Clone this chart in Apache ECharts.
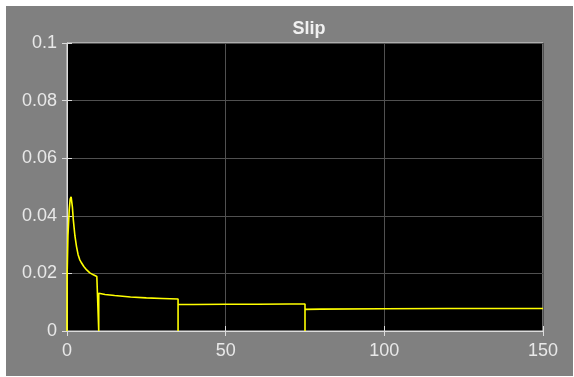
<!DOCTYPE html>
<html>
<head>
<meta charset="utf-8">
<script src="https://cdn.jsdelivr.net/npm/echarts@6/dist/echarts.min.js"></script>
<style>
html,body{margin:0;padding:0;background:#fff;}
#frame{position:absolute;left:6px;top:6px;width:567px;height:370px;background:#808080;}
#chart{position:absolute;left:-6px;top:-6px;width:574px;height:377px;}
</style>
</head>
<body>
<div id="frame"><div id="chart"></div></div>
<script>
const titleText = "Slip";
const xTicks = [0, 50, 100, 150];
const yTicks = [0, 0.02, 0.04, 0.06, 0.08, 0.1];
const timeValues = [0, 0.05, 0.3, 0.7, 1.0, 1.3, 1.7, 2.0, 2.5, 3.0, 3.5, 4.0, 4.6, 5.3, 6.2, 7.2, 8.3, 9.4, 10, 10, 10, 10.5, 12, 15, 20, 25, 30, 35, 35, 35, 40, 50, 60, 70, 75, 75, 75, 80, 100, 120, 150];
const slipValues = [0, 0.020, 0.033, 0.042, 0.0458, 0.0466, 0.043, 0.0385, 0.033, 0.0293, 0.0265, 0.0248, 0.0236, 0.0224, 0.0212, 0.0202, 0.0195, 0.0189, 0.0183, 0, 0.0131, 0.0130, 0.0127, 0.0123, 0.0118, 0.0115, 0.0113, 0.0111, 0, 0.0092, 0.0092, 0.0093, 0.0093, 0.0094, 0.0094, 0, 0.0075, 0.0076, 0.0077, 0.0078, 0.0078];

const points = timeValues.map((t, i) => [t, slipValues[i]]);
const chart = echarts.init(document.getElementById('chart'), null, {renderer: 'canvas'});
const labelStyle = {color: '#e8e8e8', fontSize: 18, fontFamily: 'Liberation Sans, Arial, sans-serif'};
chart.setOption({
  animation: false,
  backgroundColor: 'transparent',
  title: {text: titleText, left: 304, top: 15, textAlign: 'center',
    textStyle: {color: '#f0f0f0', fontSize: 18, fontWeight: 'bold', fontFamily: 'Liberation Sans, Arial, sans-serif'}},
  grid: {left: 67, right: 31, top: 43, bottom: 46, show: true, backgroundColor: '#000', borderColor: '#dcdcdc', borderWidth: 1},
  xAxis: [{
    type: 'value', min: xTicks[0], max: xTicks[xTicks.length - 1], interval: 50,
    axisLine: {show: true, lineStyle: {color: '#dcdcdc', width: 1}},
    axisTick: {show: true, inside: true, length: 5, lineStyle: {color: '#dcdcdc'}},
    axisLabel: Object.assign({margin: 11}, labelStyle),
    splitLine: {show: true, lineStyle: {color: '#505050', width: 1}}
  }, {
    type: 'value', position: 'top', min: xTicks[0], max: xTicks[xTicks.length - 1], interval: 50,
    axisLine: {show: false},
    axisTick: {show: true, inside: true, length: 5, lineStyle: {color: '#dcdcdc'}},
    axisLabel: {show: false}, splitLine: {show: false}
  }],
  yAxis: [{
    type: 'value', min: yTicks[0], max: yTicks[yTicks.length - 1], interval: 0.02,
    axisLine: {show: true, lineStyle: {color: '#dcdcdc', width: 1}},
    axisTick: {show: true, inside: true, length: 5, lineStyle: {color: '#dcdcdc'}},
    axisLabel: Object.assign({margin: 10}, labelStyle),
    splitLine: {show: true, lineStyle: {color: '#505050', width: 1}}
  }, {
    type: 'value', position: 'right', min: yTicks[0], max: yTicks[yTicks.length - 1], interval: 0.02,
    axisLine: {show: false},
    axisTick: {show: true, inside: true, length: 5, lineStyle: {color: '#dcdcdc'}},
    axisLabel: {show: false}, splitLine: {show: false}
  }],
  series: [{
    type: 'line', data: points, showSymbol: false, symbol: 'none',
    lineStyle: {color: '#ffff00', width: 1.6}, clip: true
  }]
});
</script>
</body>
</html>
